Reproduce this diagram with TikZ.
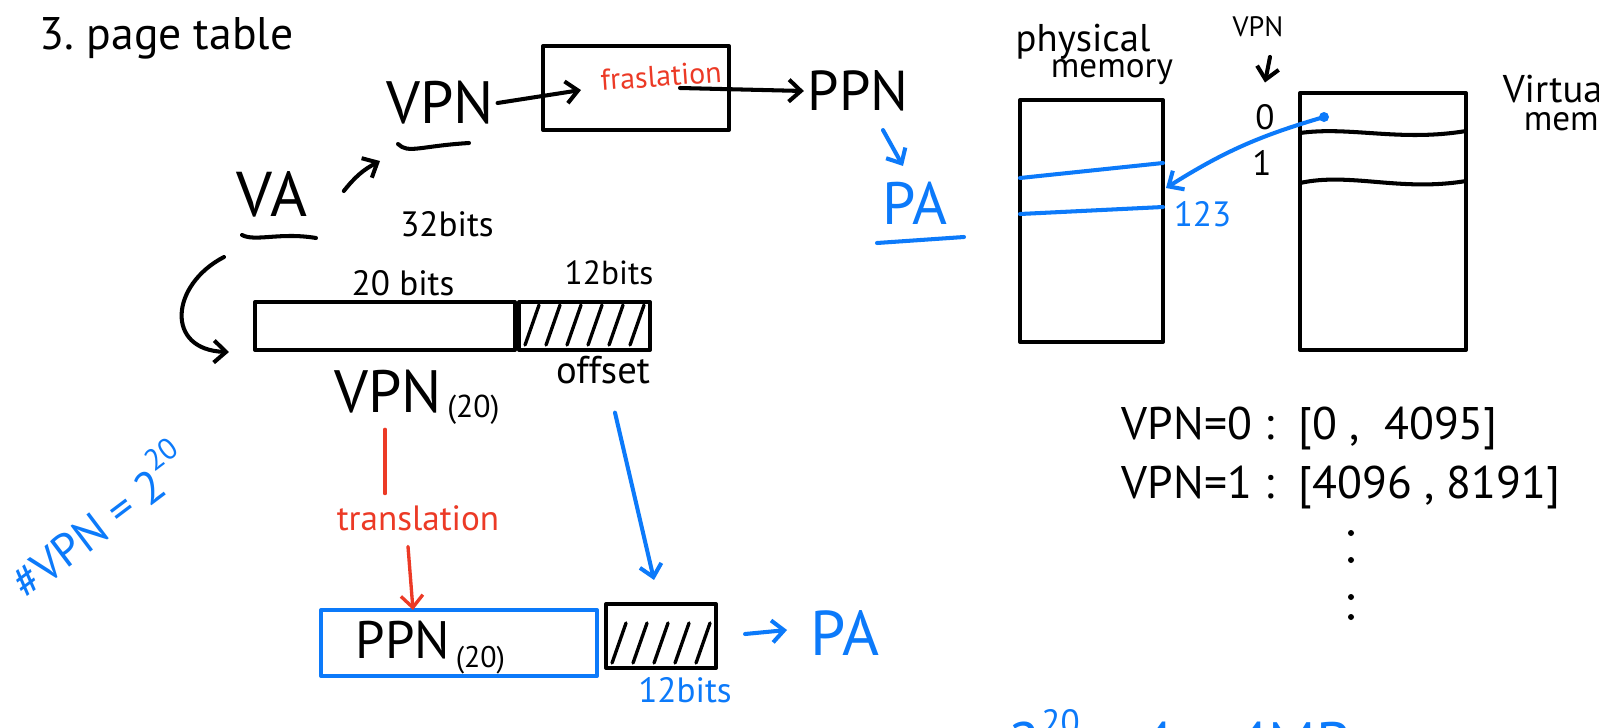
\documentclass[tikz,border=0pt]{standalone}
\usepackage{fontspec}
\setmainfont{PT Sans}
\usetikzlibrary{arrows.meta,calc,positioning}
\definecolor{penblue}{RGB}{12,122,250}
\definecolor{penred}{RGB}{236,58,38}

\begin{document}
\begin{tikzpicture}[x=0.2mm,y=-0.2mm,
  line width=2.3pt, line cap=round, line join=round,
  >={Straight Barb[length=2.4mm,width=4.4mm]},
  pen/.style={font=\fontsize{#1}{#1}\selectfont, inner sep=1pt},
  box/.style={draw, inner sep=0pt},
  hatched/.style={path picture={
    \foreach \k in {0,...,#1}
      \draw[line width=1.9pt] ($(path picture bounding box.south west)+(\k*21+6,-5)$) -- ++(14,-40);}}]
\fill[white] (0,0) rectangle (1599,728);
\path[use as bounding box, clip] (0,0) rectangle (1599,728);

\node[pen=26, anchor=west] (title) at (36,38) {3.\ page table};

% VA -> VPN -> PPN -> PA
\node[pen=36] (va) at (272,194) {VA};
\draw (242,235) .. controls (255,242) and (280,232) .. (316,238);
\node[pen=34] (vpn) at (440,103) {VPN};
\draw (398,144) .. controls (408,154) and (420,146) .. (469,143);
\coordinate (vpnin) at (380,161);
\draw[->] ($(va.east)+(33,-3)$) to[bend left=12] (vpnin);
\node[box, minimum width=37.2mm, minimum height=16.8mm] (tbox) at (636,88) {};
\node[pen=17, text=penred, rotate=4] (fras) at (661,76) {fraslation};
\coordinate (tin) at (581,90);
\coordinate (tout) at (680,88);
\draw[->] (vpn.east) -- (tin);
\node[pen=32] (ppn) at (858,91) {PPN};
\draw[->] (tout) -- (ppn.west);
\node[pen=34, text=penblue] (pa) at (915,203) {PA};
\draw[penblue, ->] ($(ppn.south)+(25,15)$) -- ($(pa.north)+(-12,-12)$);
\draw[penblue] (877,243) -- (964,237);

% virtual address bits
\node[pen=20] (b32) at (447,224) {32bits};
\node[pen=20] (b20) at (403,283) {20 bits};
\node[pen=19] (b12) at (609,273) {12bits};
\node[box, minimum width=52mm, minimum height=9.6mm] (vpart) at (385,326) {};
\node[box, hatched=5, minimum width=26.2mm, minimum height=9.6mm, right=0pt of vpart] (opart) {};
\draw[->] (224,257) .. controls (170,285) and (165,350) .. ($(vpart.south west)+(-24,0)$);
\node[pen=34] (vpnb) at (388,392) {VPN};
\node[pen=18, anchor=north west] (vpnsub) at ($(vpnb.east)+(-2,-1)$) {(20)};
\node[pen=22] (off) at (603,370) {offset};

% translation of the page number
\node[pen=20, text=penred] (trl) at (418,518) {translation};
\draw[penred, line width=1.9pt] ($(vpnb.south)+(-3,12)$) -- ($(trl.north)+(-33,-8)$);
\node[box, draw=penblue, minimum width=55.2mm, minimum height=13.2mm] (ppnbox) at (459,643) {};
\node[pen=30, anchor=west] (ppnb) at (352,640) {PPN};
\node[pen=17, anchor=north west] (ppnsub) at ($(ppnb.east)+(-2,2)$) {(20)};
\node[box, hatched=5, minimum width=22mm, minimum height=12.8mm, right=1mm of ppnbox, yshift=1.4mm] (obox) {};
\draw[penred, ->, line width=1.9pt] ($(trl.south)+(-10,12)$) -- ($(ppnbox.north)+(-46,2)$);
\draw[penblue, ->] ($(off.south)+(12,25)$) -- ($(obox.north)+(-7,-22)$);
\node[pen=36, text=penblue] (pa2) at (845,633) {PA};
\draw[penblue, ->] ($(obox.east)+(27,-2)$) -- ($(pa2.west)+(-20,-3)$);
\node[pen=20, text=penblue] (b12b) at (685,690) {12bits};
\node[pen=26, text=penblue, rotate=37] (nvpn) at (97,518) {\#VPN = 2\raisebox{0.55em}{\fontsize{17}{17}\selectfont 20}};

% physical memory
\node[pen=22] (phys) at (1083,42) {physical};
\node[pen=20] (pmemlbl) at (1112,72) {memory};
\node[box, minimum width=28.6mm, minimum height=48.4mm] (pmem) at (1091.5,221) {};
\draw[penblue] (1020,178) -- (1163,163);
\draw[penblue] (1020,214) -- (1163,207);
\coordinate (row123) at (1166,188);
\node[pen=20, text=penblue, anchor=west] (n123) at (1170,214) {123};

% virtual memory
\node[pen=16] (vpns) at (1258,27) {VPN};
\node[pen=20] (p0) at (1265,117) {0};
\node[pen=20] (p1) at (1262,163) {1};
\draw[->] ($(vpns.south)+(12,16)$) -- ($(p0.north)+(0,-18)$);
\node[box, minimum width=33.2mm, minimum height=51.4mm] (vmem) at (1383,221.5) {};
\draw (1300,133) .. controls (1350,126) and (1400,142) .. (1466,131);
\draw (1300,183) .. controls (1350,172) and (1400,192) .. (1466,181);
\coordinate (vdot) at (1324,117);
\fill[penblue] (vdot) circle (5);
\draw[penblue, ->] (vdot) to[bend right=8] (row123);
\node[pen=22, anchor=west] (virt) at (1499,89) {Virtual};
\node[pen=20, anchor=west] (vmemlbl) at (1520,125) {memory};

% page ranges
\node[pen=26, anchor=west] (r0) at (1118,428) {VPN=0 :\ \ [0 ,\ \ 4095]};
\node[pen=26, anchor=west] (r1) at (1118,487) {VPN=1 :\ \ [4096 , 8191]};
\foreach \y in {533,560,597,617}
  \fill (1351,\y) circle (3);

% size of the table
\node[pen=34, text=penblue, anchor=north west] (tsize) at (1005,706) {2\raisebox{0.5em}{\fontsize{20}{20}\selectfont 20} × 4 = 4MB};
\end{tikzpicture}
\end{document}
